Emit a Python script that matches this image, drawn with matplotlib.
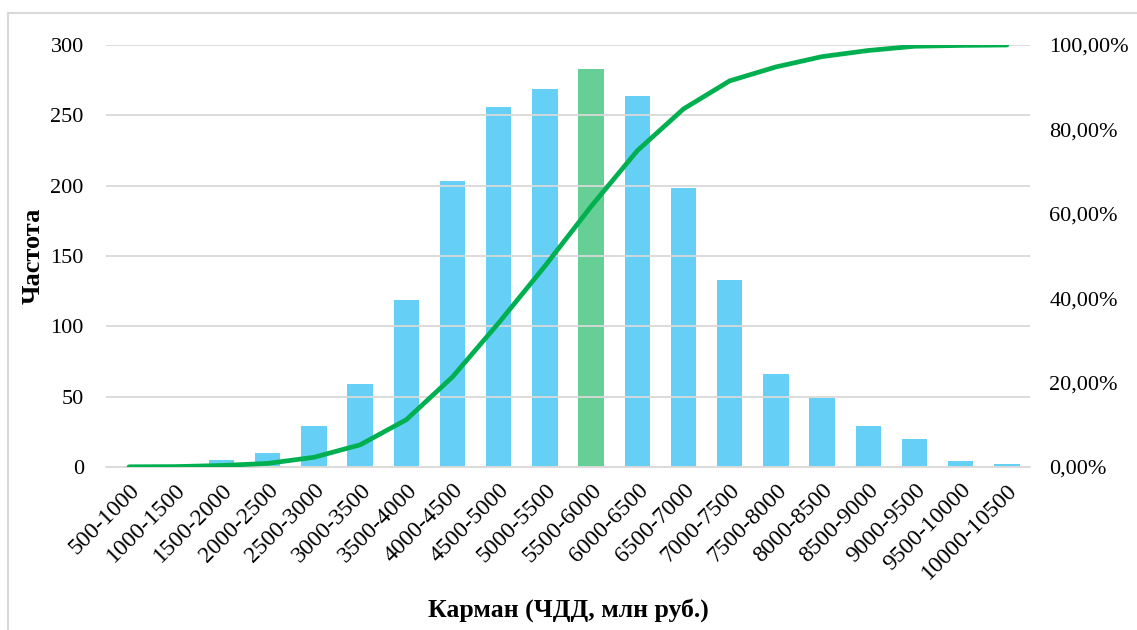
import numpy as np
import matplotlib.pyplot as plt
from matplotlib.lines import Line2D
from matplotlib.ticker import FuncFormatter

plt.rcParams['font.family'] = ['Liberation Serif', 'DejaVu Serif']

# Bins of the NPV histogram and counts per bin
bins = ['500-1000', '1000-1500', '1500-2000', '2000-2500', '2500-3000',
        '3000-3500', '3500-4000', '4000-4500', '4500-5000', '5000-5500',
        '5500-6000', '6000-6500', '6500-7000', '7000-7500', '7500-8000',
        '8000-8500', '8500-9000', '9000-9500', '9500-10000', '10000-10500']
counts = [1, 1, 5, 10, 29, 59, 119, 203, 256, 269,
          283, 264, 198, 133, 66, 49, 29, 20, 4, 2]
highlight = '5500-6000'

cum_share = np.cumsum(counts) / np.sum(counts)

fig = plt.figure(figsize=(11.37, 6.30), dpi=100)
ax = fig.add_axes([106 / 1137, 1 - 467 / 630, 924 / 1137, 422 / 630])
x = np.arange(len(bins))

colors = ['#00B050' if b == highlight else '#00B0F0' for b in bins]
ax.bar(x, counts, width=0.55, color=colors, alpha=0.6, zorder=2)
ax.set_xlim(-0.5, len(bins) - 0.5)
ax.set_ylim(0, 300)
ax.set_yticks(range(0, 301, 50))
ax.set_axisbelow(False)
ax.grid(axis='y', color='#D9D9D9', linewidth=1.3, zorder=1)
for s in ['top', 'right', 'left']:
    ax.spines[s].set_visible(False)
ax.spines['bottom'].set_color('#D9D9D9')
ax.spines['bottom'].set_linewidth(1.3)
ax.tick_params(axis='both', length=0, labelsize=16)
ax.tick_params(axis='y', pad=16)
ax.set_xticks(x)
ax.set_xticklabels(bins, rotation=45, ha='right', rotation_mode='anchor', fontsize=17)
ax.tick_params(axis='x', pad=9)
ax.set_ylabel('Частота', fontsize=19, fontweight='bold', labelpad=4)
ax.set_xlabel('Карман (ЧДД, млн руб.)', fontsize=18.5, fontweight='bold', labelpad=11)

ax2 = ax.twinx()
ax2.plot(x, cum_share, color='#00B050', linewidth=3.4, solid_capstyle='round', zorder=3)
ax2.set_ylim(0, 1)
ax2.set_yticks(np.arange(0, 1.01, 0.2))
ax2.yaxis.set_major_formatter(FuncFormatter(lambda v, p: f'{v * 100:.2f}%'.replace('.', ',')))
for s in ax2.spines.values():
    s.set_visible(False)
ax2.tick_params(axis='y', length=0, labelsize=16, pad=14)

# light frame around the chart area
fig.add_artist(Line2D([8 / 1137, 8 / 1137], [0, 1 - 13 / 630], color='#D9D9D9', linewidth=1.5))
fig.add_artist(Line2D([8 / 1137, 1], [1 - 13 / 630, 1 - 13 / 630], color='#D9D9D9', linewidth=1.5))

fig.savefig('out.png', dpi=100)
